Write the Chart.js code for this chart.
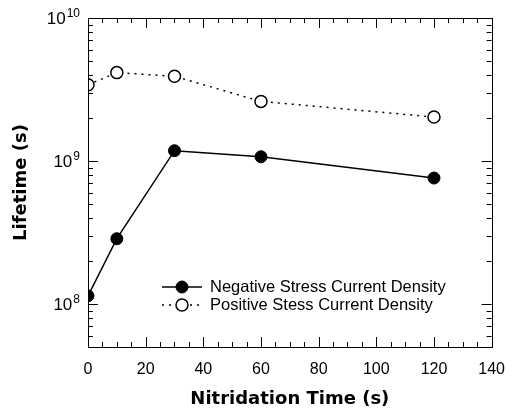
<!DOCTYPE html>
<html>
<head>
<meta charset="utf-8">
<script src="https://cdn.jsdelivr.net/npm/chart.js@4/dist/chart.umd.min.js"></script>
<style>
html,body{margin:0;padding:0;background:#fff;}
#wrap{width:518px;height:412px;position:relative;}
</style>
</head>
<body>
<div id="wrap"><canvas id="c" width="518" height="412"></canvas></div>
<script>
// ---- data ----
const nitridationTime = [0, 10, 30, 60, 120];
const negativeLifetime = [1.14e8, 2.86e8, 1.18e9, 1.07e9, 7.6e8];
const positiveLifetime = [3.41e9, 4.15e9, 3.91e9, 2.61e9, 2.03e9];
const seriesLabels = ['Negative Stress Current Density', 'Positive Stess Current Density'];
const xTickValues = [0, 20, 40, 60, 80, 100, 120, 140];
const yTickValues = [1e8, 1e9, 1e10];
const yTickBase = '10';
const yTickExponents = ['8', '9', '10'];
const xTitle = 'Nitridation Time (s)';
const yTitle = 'Lifetime (s)';

const FONT = '"Liberation Sans", Arial, Helvetica, sans-serif';
const TITLE_FONT = '"DejaVu Sans", sans-serif';

const framePlugin = {
  id: 'frame',
  afterDraw(chart) {
    const ctx = chart.ctx;
    const a = chart.chartArea;
    const xs = chart.scales.x, ys = chart.scales.y;
    ctx.save();
    ctx.strokeStyle = '#000';
    ctx.lineWidth = 1;
    ctx.strokeRect(Math.round(a.left) + 0.5, Math.round(a.top) + 0.5,
                   Math.round(a.right - a.left), Math.round(a.bottom - a.top));
    ctx.beginPath();
    // x ticks (major every 20, minor every 5), inside, top & bottom
    for (let v = xs.min; v <= xs.max + 1e-9; v += 5) {
      const px = Math.round(xs.getPixelForValue(v)) + 0.5;
      const len = (v % 20 === 0) ? 10 : 5;
      ctx.moveTo(px, a.bottom); ctx.lineTo(px, a.bottom - len);
      ctx.moveTo(px, a.top); ctx.lineTo(px, a.top + len);
    }
    // y ticks (log), inside, left & right
    const lo = Math.floor(Math.log10(ys.min)), hi = Math.ceil(Math.log10(ys.max));
    for (let d = lo; d <= hi; d++) {
      for (let m = 1; m <= 9; m++) {
        const v = m * Math.pow(10, d);
        if (v < ys.min * 0.999 || v > ys.max * 1.001) continue;
        const py = Math.round(ys.getPixelForValue(v)) + 0.5;
        const len = (m === 1) ? 10 : 5;
        ctx.moveTo(a.left, py); ctx.lineTo(a.left + len, py);
        ctx.moveTo(a.right, py); ctx.lineTo(a.right - len, py);
      }
    }
    ctx.stroke();

    // y tick labels: 10 with superscript exponent
    ctx.fillStyle = '#000';
    ctx.textBaseline = 'alphabetic';
    ctx.textAlign = 'left';
    yTickValues.forEach((v, i) => {
      const py = ys.getPixelForValue(v);
      ctx.font = '17px ' + FONT;
      const wb = ctx.measureText(yTickBase).width;
      ctx.font = '12px ' + FONT;
      const we = ctx.measureText(yTickExponents[i]).width;
      const right = a.left - 8;
      const x0 = right - wb - we - 1;
      ctx.font = '17px ' + FONT;
      ctx.fillText(yTickBase, x0, py + 6);
      ctx.font = '12px ' + FONT;
      ctx.fillText(yTickExponents[i], x0 + wb + 1, py - 1);
    });

    // y title
    ctx.save();
    ctx.translate(21, (a.top + a.bottom) / 2);
    ctx.rotate(-Math.PI / 2);
    ctx.font = 'bold 18px ' + TITLE_FONT;
    ctx.textAlign = 'center';
    ctx.textBaseline = 'middle';
    ctx.fillText(yTitle, 0, 0);
    ctx.restore();

    // legend with line + marker
    const lx = a.left + 74, ly = a.top + 269, rowH = 18;
    chart.data.datasets.forEach((ds, i) => {
      const y = ly + i * rowH;
      ctx.beginPath();
      ctx.setLineDash(ds.borderDash || []);
      ctx.lineWidth = ds.borderWidth;
      ctx.strokeStyle = ds.borderColor;
      ctx.moveTo(lx, y); ctx.lineTo(lx + 40, y);
      ctx.stroke();
      ctx.setLineDash([]);
      ctx.beginPath();
      ctx.arc(lx + 20, y, ds.pointRadius, 0, Math.PI * 2);
      ctx.fillStyle = ds.pointBackgroundColor;
      ctx.fill();
      ctx.lineWidth = ds.pointBorderWidth;
      ctx.strokeStyle = ds.pointBorderColor;
      ctx.stroke();
      ctx.fillStyle = '#000';
      ctx.font = '16.5px ' + FONT;
      ctx.textBaseline = 'middle';
      ctx.textAlign = 'left';
      ctx.fillText(ds.label, lx + 48, y);
    });
    ctx.restore();
  }
};

new Chart(document.getElementById('c'), {
  type: 'line',
  data: {
    datasets: [
      {
        label: seriesLabels[0],
        data: nitridationTime.map((t, i) => ({x: t, y: negativeLifetime[i]})),
        borderColor: '#000', borderWidth: 1.5,
        pointRadius: 6, pointBackgroundColor: '#000', pointBorderColor: '#000', pointBorderWidth: 1,
        tension: 0, fill: false
      },
      {
        label: seriesLabels[1],
        data: nitridationTime.map((t, i) => ({x: t, y: positiveLifetime[i]})),
        borderColor: '#000', borderWidth: 1.5, borderDash: [2, 5],
        pointRadius: 6, pointBackgroundColor: '#fff', pointBorderColor: '#000', pointBorderWidth: 1.5,
        tension: 0, fill: false
      }
    ]
  },
  options: {
    responsive: false,
    animation: false,
    devicePixelRatio: 1,
    layout: {padding: {top: 18, right: 18, left: 0, bottom: 0}},
    plugins: {legend: {display: false}, tooltip: {enabled: false}},
    scales: {
      x: {
        type: 'linear', min: 0, max: 140,
        afterBuildTicks: s => { s.ticks = xTickValues.map(v => ({value: v})); },
        afterFit: s => { s.height = 65; },
        grid: {display: false, drawTicks: false},
        border: {display: false},
        ticks: {padding: 13, color: '#000', font: {family: FONT, size: 16}, maxRotation: 0},
        title: {display: true, text: xTitle, color: '#000', font: {family: TITLE_FONT, size: 18, weight: 'bold'}, padding: {top: 0, bottom: 2}}
      },
      y: {
        type: 'logarithmic', min: 5e7, max: 1e10,
        afterBuildTicks: s => { s.ticks = yTickValues.map(v => ({value: v})); },
        afterFit: s => { s.width = 88; },
        grid: {display: false, drawTicks: false},
        border: {display: false},
        ticks: {display: false},
        title: {display: false}
      }
    }
  },
  plugins: [framePlugin]
});
</script>
</body>
</html>
